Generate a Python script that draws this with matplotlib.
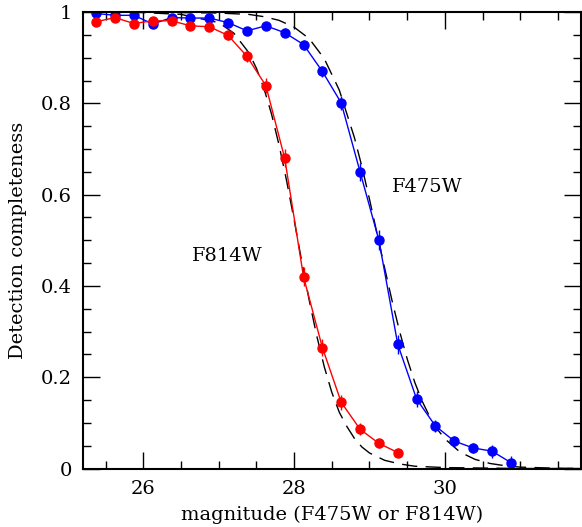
import numpy as np
import matplotlib
matplotlib.use("Agg")
import matplotlib.pyplot as plt
from matplotlib.ticker import MultipleLocator, FuncFormatter

# Measured completeness (points with error bars)
mag_blue = [25.375, 25.625, 25.875, 26.125, 26.375, 26.625, 26.875, 27.125, 27.375,
            27.625, 27.875, 28.125, 28.375, 28.625, 28.875, 29.125, 29.375, 29.625,
            29.875, 30.125, 30.375, 30.625, 30.875]
comp_blue = [0.997, 0.993, 0.993, 0.974, 0.988, 0.987, 0.987, 0.977, 0.959,
             0.970, 0.955, 0.929, 0.870, 0.801, 0.650, 0.500, 0.272, 0.152,
             0.093, 0.060, 0.045, 0.038, 0.013]
err_blue = [0.004, 0.004, 0.004, 0.005, 0.005, 0.005, 0.005, 0.006, 0.008,
            0.008, 0.010, 0.011, 0.013, 0.016, 0.020, 0.022, 0.021, 0.018,
            0.014, 0.012, 0.011, 0.014, 0.014]

mag_red = [25.375, 25.625, 25.875, 26.125, 26.375, 26.625, 26.875, 27.125, 27.375,
           27.625, 27.875, 28.125, 28.375, 28.625, 28.875, 29.125, 29.375]
comp_red = [0.979, 0.988, 0.975, 0.981, 0.981, 0.970, 0.968, 0.949, 0.903,
            0.839, 0.680, 0.420, 0.265, 0.145, 0.086, 0.055, 0.035]
err_red = [0.005, 0.005, 0.005, 0.005, 0.005, 0.006, 0.006, 0.009, 0.012,
           0.017, 0.020, 0.021, 0.019, 0.016, 0.013, 0.010, 0.009]

# Fitted curves (dashed)
fit_mag_f475 = [25.2, 26.0, 27.0, 27.4, 27.6, 27.8, 28.0, 28.2, 28.4, 28.6, 28.8, 28.9,
                29.0, 29.1, 29.2, 29.3, 29.4, 29.5, 29.6, 29.7, 29.8, 29.9, 30.0, 30.2,
                30.4, 30.6, 30.8, 31.0, 31.4, 31.8]
fit_comp_f475 = [1.0, 1.0, 0.998, 0.995, 0.990, 0.982, 0.967, 0.942, 0.898, 0.829, 0.725, 0.661,
                 0.590, 0.515, 0.440, 0.367, 0.300, 0.240, 0.189, 0.147, 0.113, 0.086, 0.065, 0.036,
                 0.020, 0.011, 0.006, 0.003, 0.001, 0.0]

fit_mag_f814 = [25.2, 26.0, 26.5, 27.0, 27.2, 27.4, 27.5, 27.6, 27.7, 27.8, 27.9, 28.0,
                28.1, 28.2, 28.3, 28.4, 28.5, 28.6, 28.7, 28.8, 28.9, 29.0, 29.2, 29.4,
                29.6, 30.0, 30.5, 31.0, 31.8]
fit_comp_f814 = [1.0, 0.999, 0.995, 0.977, 0.954, 0.911, 0.877, 0.833, 0.777, 0.709, 0.631, 0.545,
                 0.455, 0.369, 0.291, 0.223, 0.167, 0.123, 0.092, 0.066, 0.047, 0.034, 0.018, 0.010,
                 0.005, 0.002, 0.001, 0.0, 0.0]

plt.rcParams['font.family'] = ['DejaVu Serif']

fig = plt.figure(figsize=(5.82, 5.27), dpi=100)
ax = fig.add_axes([0.1426, 0.111, 0.855, 0.866])

dash = (0, (11, 6))
ax.plot(fit_mag_f475, fit_comp_f475, color='black', lw=1.0, linestyle=dash)
ax.plot(fit_mag_f814, fit_comp_f814, color='black', lw=1.0, linestyle=dash)

ax.errorbar(mag_blue, comp_blue, yerr=err_blue, color='blue', marker='o', ms=6.5,
            lw=1.0, elinewidth=1.0, capsize=0)
ax.errorbar(mag_red, comp_red, yerr=err_red, color='red', marker='o', ms=6.5,
            lw=1.0, elinewidth=1.0, capsize=0)

ax.text(29.76, 0.617, 'F475W', fontsize=14, ha='center', va='center')
ax.text(27.11, 0.466, 'F814W', fontsize=14, ha='center', va='center')

ax.set_xlim(25.2, 31.8)
ax.set_ylim(0, 1)
ax.xaxis.set_major_locator(MultipleLocator(2))
ax.xaxis.set_minor_locator(MultipleLocator(0.5))
ax.yaxis.set_major_locator(MultipleLocator(0.2))
ax.yaxis.set_minor_locator(MultipleLocator(0.05))
ax.yaxis.set_major_formatter(FuncFormatter(lambda v, p: '%g' % round(v, 2)))
ax.tick_params(which='both', direction='in', top=True, right=True, width=1.0, labelsize=14)
ax.tick_params(which='major', length=12, pad=8)
ax.tick_params(which='minor', length=6)
for s in ax.spines.values():
    s.set_linewidth(1.5)

ax.set_xlabel('magnitude (F475W or F814W)', fontsize=14, labelpad=6)
ax.set_ylabel('Detection completeness', fontsize=14, labelpad=10)

fig.savefig('out.png', dpi=100)
